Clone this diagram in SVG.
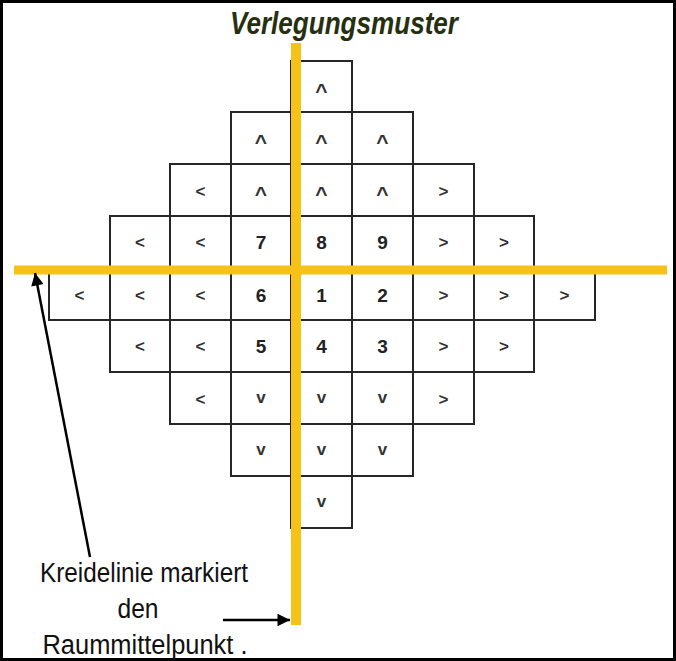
<svg xmlns="http://www.w3.org/2000/svg" width="676" height="661" viewBox="0 0 676 661">
<style>
.cell rect{fill:#ffffff;stroke:#262626;stroke-width:2}
.s{font-family:"Liberation Sans",Arial,sans-serif;font-weight:bold;font-size:17px;fill:#333;text-anchor:middle}
.c{font-family:"Liberation Sans",Arial,sans-serif;font-weight:bold;font-size:21px;fill:#333;text-anchor:middle}
.d{font-family:"Liberation Sans",Arial,sans-serif;font-weight:bold;font-size:19px;fill:#222;text-anchor:middle}
.lbl{font-family:"Liberation Sans",Arial,sans-serif;font-size:27px;fill:#111;text-anchor:middle}
.chalk{stroke:#F6C218;fill:none}
.arr{stroke:#000;stroke-width:2.5;fill:none}
</style>
<defs>
<marker id="ah" viewBox="0 0 10 10" refX="10" refY="5" markerWidth="6.5" markerHeight="5" markerUnits="strokeWidth" orient="auto">
<path d="M0,0 L10,5 L0,10 z" fill="#000"/>
</marker>
</defs>
<rect x="1.5" y="1.5" width="673" height="658" fill="#fff" stroke="#000" stroke-width="3"/>
<text id="title" x="344" y="34" textLength="228" lengthAdjust="spacingAndGlyphs" style="font-family:'Liberation Sans',Arial,sans-serif;font-weight:bold;font-style:italic;font-size:31px;fill:#263010;text-anchor:middle">Verlegungsmuster</text>

<g id="grid">
<g id="r0c4" class="cell"><rect x="291" y="61" width="61" height="51"/><text class="c" x="321.5" y="97.5">^</text></g>

<g id="r1c3" class="cell"><rect x="231" y="112" width="60" height="52"/><text class="c" x="261" y="149">^</text></g>
<g id="r1c4" class="cell"><rect x="291" y="112" width="61" height="52"/><text class="c" x="321.5" y="149">^</text></g>
<g id="r1c5" class="cell"><rect x="352" y="112" width="61" height="52"/><text class="c" x="382.5" y="149">^</text></g>

<g id="r2c2" class="cell"><rect x="170" y="164" width="61" height="52"/><text class="s" x="200.5" y="197">&lt;</text></g>
<g id="r2c3" class="cell"><rect x="231" y="164" width="60" height="52"/><text class="c" x="261" y="201">^</text></g>
<g id="r2c4" class="cell"><rect x="291" y="164" width="61" height="52"/><text class="c" x="321.5" y="201">^</text></g>
<g id="r2c5" class="cell"><rect x="352" y="164" width="61" height="52"/><text class="c" x="382.5" y="201">^</text></g>
<g id="r2c6" class="cell"><rect x="413" y="164" width="61" height="52"/><text class="s" x="443.5" y="197">&gt;</text></g>

<g id="r3c1" class="cell"><rect x="110" y="216" width="60" height="52"/><text class="s" x="140" y="248">&lt;</text></g>
<g id="r3c2" class="cell"><rect x="170" y="216" width="61" height="52"/><text class="s" x="200.5" y="248">&lt;</text></g>
<g id="r3c3" class="cell"><rect x="231" y="216" width="60" height="52"/><text class="d" x="261" y="249">7</text></g>
<g id="r3c4" class="cell"><rect x="291" y="216" width="61" height="52"/><text class="d" x="321.5" y="249">8</text></g>
<g id="r3c5" class="cell"><rect x="352" y="216" width="61" height="52"/><text class="d" x="382.5" y="249">9</text></g>
<g id="r3c6" class="cell"><rect x="413" y="216" width="61" height="52"/><text class="s" x="443.5" y="248">&gt;</text></g>
<g id="r3c7" class="cell"><rect x="474" y="216" width="60" height="52"/><text class="s" x="504" y="248">&gt;</text></g>

<g id="r4c0" class="cell"><rect x="49" y="268" width="61" height="52"/><text class="s" x="79.5" y="301">&lt;</text></g>
<g id="r4c1" class="cell"><rect x="110" y="268" width="60" height="52"/><text class="s" x="140" y="301">&lt;</text></g>
<g id="r4c2" class="cell"><rect x="170" y="268" width="61" height="52"/><text class="s" x="200.5" y="301">&lt;</text></g>
<g id="r4c3" class="cell"><rect x="231" y="268" width="60" height="52"/><text class="d" x="261" y="302">6</text></g>
<g id="r4c4" class="cell"><rect x="291" y="268" width="61" height="52"/><text class="d" x="321.5" y="302">1</text></g>
<g id="r4c5" class="cell"><rect x="352" y="268" width="61" height="52"/><text class="d" x="382.5" y="302">2</text></g>
<g id="r4c6" class="cell"><rect x="413" y="268" width="61" height="52"/><text class="s" x="443.5" y="301">&gt;</text></g>
<g id="r4c7" class="cell"><rect x="474" y="268" width="60" height="52"/><text class="s" x="504" y="301">&gt;</text></g>
<g id="r4c8" class="cell"><rect x="534" y="268" width="61" height="52"/><text class="s" x="564.5" y="301">&gt;</text></g>

<g id="r5c1" class="cell"><rect x="110" y="320" width="60" height="52"/><text class="s" x="140" y="352">&lt;</text></g>
<g id="r5c2" class="cell"><rect x="170" y="320" width="61" height="52"/><text class="s" x="200.5" y="352">&lt;</text></g>
<g id="r5c3" class="cell"><rect x="231" y="320" width="60" height="52"/><text class="d" x="261" y="353">5</text></g>
<g id="r5c4" class="cell"><rect x="291" y="320" width="61" height="52"/><text class="d" x="321.5" y="353">4</text></g>
<g id="r5c5" class="cell"><rect x="352" y="320" width="61" height="52"/><text class="d" x="382.5" y="353">3</text></g>
<g id="r5c6" class="cell"><rect x="413" y="320" width="61" height="52"/><text class="s" x="443.5" y="352">&gt;</text></g>
<g id="r5c7" class="cell"><rect x="474" y="320" width="60" height="52"/><text class="s" x="504" y="352">&gt;</text></g>

<g id="r6c2" class="cell"><rect x="170" y="372" width="61" height="52"/><text class="s" x="200.5" y="405">&lt;</text></g>
<g id="r6c3" class="cell"><rect x="231" y="372" width="60" height="52"/><text class="s" x="261" y="402.5">v</text></g>
<g id="r6c4" class="cell"><rect x="291" y="372" width="61" height="52"/><text class="s" x="321.5" y="402.5">v</text></g>
<g id="r6c5" class="cell"><rect x="352" y="372" width="61" height="52"/><text class="s" x="382.5" y="402.5">v</text></g>
<g id="r6c6" class="cell"><rect x="413" y="372" width="61" height="52"/><text class="s" x="443.5" y="405">&gt;</text></g>

<g id="r7c3" class="cell"><rect x="231" y="424" width="60" height="52"/><text class="s" x="261" y="454.5">v</text></g>
<g id="r7c4" class="cell"><rect x="291" y="424" width="61" height="52"/><text class="s" x="321.5" y="454.5">v</text></g>
<g id="r7c5" class="cell"><rect x="352" y="424" width="61" height="52"/><text class="s" x="382.5" y="454.5">v</text></g>

<g id="r8c4" class="cell"><rect x="291" y="476" width="61" height="52"/><text class="s" x="321.5" y="506.5">v</text></g>
</g>

<g id="chalklines">
<line class="chalk" x1="14" y1="270" x2="667" y2="270" stroke-width="9"/>
<line class="chalk" x1="296" y1="43" x2="296" y2="625" stroke-width="10"/>
</g>

<g id="label">
<text class="lbl" x="144" y="582" textLength="208" lengthAdjust="spacingAndGlyphs">Kreidelinie markiert</text>
<text class="lbl" x="138" y="618" textLength="41" lengthAdjust="spacingAndGlyphs">den</text>
<text class="lbl" x="145" y="654" textLength="205" lengthAdjust="spacingAndGlyphs">Raummittelpunkt .</text>
</g>

<g id="connectors">
<line class="arr" x1="90" y1="557" x2="35" y2="273" marker-end="url(#ah)"/>
<line class="arr" x1="223" y1="620" x2="290" y2="620" marker-end="url(#ah)"/>
</g>
</svg>
